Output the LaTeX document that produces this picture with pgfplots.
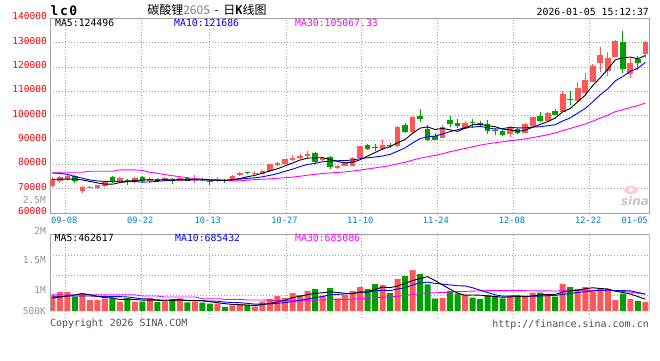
\documentclass[border=0pt]{standalone}
\usepackage{pgfplots}
\pgfplotsset{compat=1.18}
\usepackage{pgfplotstable}
\usepackage{fontspec}
\setmainfont{DejaVu Sans}
\newfontfamily\mono{DejaVu Sans Mono}
\newfontfamily\cjk{Noto Sans CJK SC}
\definecolor{cUp}{RGB}{255,88,88}
\definecolor{cDn}{RGB}{0,160,0}
\definecolor{cMag}{RGB}{255,0,255}
\definecolor{cBlu}{RGB}{0,0,255}
\definecolor{cDate}{RGB}{0,128,200}
\definecolor{cFrame}{RGB}{160,160,160}
\definecolor{cGrid}{RGB}{165,165,165}
\definecolor{cLbl}{RGB}{150,150,150}
\definecolor{cFoot}{RGB}{80,80,80}

\pgfplotstableread{
i o h l c
0 71130 74650 70700 73940
1 73240 75350 72530 74650
2 73660 76050 73240 75350
4 69010 71130 68310 70840
5 70500 71130 70300 70900
6 70140 71700 70000 71550
7 71130 73240 70840 72960
9 73240 74650 72820 74220
11 72820 74650 72530 74360
13 72960 74790 72390 73940
15 73240 74650 72960 74360
17 73240 74650 72960 74360
19 73400 75630 72530 73800
22 73400 74650 72820 73800
24 73100 75490 72960 75210
25 75600 77000 75300 76400
27 76200 77300 75700 76600
28 76200 77600 76000 77400
29 77100 80200 77000 80100
30 79900 81000 79500 80500
31 80000 82300 79900 82200
32 81700 84000 81400 82600
33 82700 84300 82400 83500
34 83400 85500 82800 84100
36 81600 83100 81100 82600
38 78600 79800 78300 79500
39 79500 81000 79200 80800
40 79500 83200 79300 82800
41 82800 87600 82600 87470
44 86130 90130 86100 88130
46 87470 95700 87300 95460
48 93200 100100 93000 99460
52 91000 96030 90730 95480
55 94670 97790 94390 96840
61 92350 95750 91400 95480
63 93030 97110 92760 96430
64 95750 99560 95480 99420
66 97790 101460 97650 101190
68 101460 110300 101460 109070
70 105950 113960 105540 111380
71 109340 117500 109070 114780
72 113960 121170 113690 120490
73 121850 128370 118180 124970
74 118580 126330 116410 123880
75 124290 131090 124020 130820
77 117090 123610 115460 121850
79 125380 130820 123610 130410
}\upC

\pgfplotstableread{
i o h l c
3 75350 75770 72530 73240
8 74650 75350 72530 72960
10 73660 73940 71550 72820
12 74790 75210 72820 73240
14 74080 74360 72680 72960
16 73940 74220 72110 72960
18 74500 74790 72960 73240
20 74100 74360 72960 73800
21 73100 73940 71550 72680
23 73520 73940 72530 72960
26 76900 77000 76100 76250
35 84600 84900 80700 81000
37 82900 83500 77900 78900
42 87870 88200 85800 86530
43 87100 88400 85500 86700
45 88100 88800 86800 87700
47 96100 97000 92800 93200
49 99860 102700 97500 98800
50 94400 96200 89700 90130
51 91870 93070 89870 90130
53 98200 99830 95480 96430
54 96840 98740 95070 95750
56 97400 98740 95070 97000
57 97110 97790 95750 96300
58 96700 98060 92350 93710
59 94000 95070 91950 93600
60 93710 93990 91680 91950
62 94670 95070 92350 93030
65 99830 101600 97520 97790
67 101870 102820 100240 100510
69 106900 110300 104590 106500
76 130410 134760 117500 119130
78 123200 124560 118860 121580
}\dnC

\pgfplotstableread{
i m5 m10 m30
0 73900 76400 76760
1 73900 76300 76760
2 74000 75900 76760
3 73900 75000 76760
4 73604 74300 76760
5 72996 73600 77180
6 72376 73200 77180
7 71898 73000 77180
8 71842 72900 77180
9 72518 73061 77740
10 72902 72949 77740
11 73464 72920 77740
12 73520 72709 77500
13 73716 72779 76760
14 73464 72991 76340
15 73772 73337 75800
16 73492 73478 75350
17 73716 73618 74930
18 73576 73646 74500
19 73744 73604 74200
20 73632 73702 73900
21 73576 73534 73800
22 73464 73590 73500
23 73408 73492 73300
24 73690 73717 73200
25 74210 73921 73250
26 74924 74250 73500
27 75484 74474 73750
28 76372 74890 73900
29 77350 75520 74062
30 78170 76190 74280
31 79360 77142 74532
32 80560 78022 74774
33 81780 79076 75116
34 82580 79965 75558
35 82680 80425 75894
36 82760 81060 76263
37 82020 81290 76461
38 81220 81500 76679
39 80560 81570 76898
40 80920 81800 77231
41 81894 82327 77668
42 83420 82720 78111
43 84860 83040 78536
44 86326 83443 79042
45 87306 84113 79486
46 88904 85399 80236
47 90238 86829 80864
48 92790 88825 81738
49 94924 90625 82572
50 95410 91358 83116
51 94344 91624 83698
52 94800 92519 84420
53 94194 93492 85203
54 93584 94254 85887
55 94926 95168 86569
56 96300 95322 87260
57 96464 95632 87917
58 95920 95057 88461
59 95490 94537 88911
60 94512 94719 89292
61 94208 95254 89735
62 93554 95009 90083
63 94098 95009 90514
64 95262 95376 91024
65 96430 95471 91584
66 97572 95890 92204
67 99068 96311 92924
68 101596 97847 93910
69 103012 99137 94766
70 105730 101080 95719
71 108448 103010 96629
72 112444 105756 97761
73 115624 108610 99037
74 119100 111056 100229
75 122988 114359 101666
76 123858 116153 102455
77 124130 118287 103410
78 123452 119538 104147
79 124758 121929 105201
}\maP

\pgfplotstableread{
i v
0 660000
1 760000
2 760000
4 712000
5 440000
6 440000
7 500000
9 380000
11 380000
13 512000
15 380000
17 508000
19 388000
22 292000
24 228000
25 272000
27 172000
28 372000
29 472000
30 592000
31 528000
32 720000
33 640000
34 792000
36 612000
38 508000
39 632000
40 800000
41 960000
44 1040000
46 1280000
48 1640000
52 520000
55 640000
61 600000
63 600000
64 732000
66 680000
68 1080000
70 880000
71 960000
72 772000
73 920000
74 880000
75 440000
77 480000
79 360000
}\vUp

\pgfplotstableread{
i v
3 580000
8 528000
10 520000
12 380000
14 360000
16 480000
18 348000
20 332000
21 292000
23 168000
26 240000
35 872000
37 920000
42 880000
43 1080000
45 720000
47 1400000
49 1480000
50 1068000
51 492000
53 800000
54 708000
56 532000
57 480000
58 640000
59 600000
60 508000
62 572000
65 732000
67 572000
69 960000
76 692000
78 400000
}\vDn

\pgfplotstableread{
i v5 v10 v30
0 520000 560000 652000
1 560000 580000 652000
2 600000 600000 652000
3 640000 600000 652000
4 694400 600000 652000
5 650400 600000 652000
6 586400 592000 652000
7 534400 584000 652000
8 524000 580000 652000
9 457600 576000 652000
10 473600 562000 652000
11 461600 524000 652000
12 437600 486000 600000
13 434400 479200 600000
14 430400 444000 600000
15 402400 438000 560000
16 422400 442000 560000
17 448000 442800 560000
18 415200 424800 560000
19 420800 425600 560000
20 411200 406800 492000
21 373600 398000 492000
22 330400 389200 492000
23 294400 354800 468000
24 262400 341600 468000
25 250400 330800 468000
26 240000 306800 440000
27 216000 273200 440000
28 256800 275600 440000
29 305600 284000 428400
30 369600 310000 426400
31 427200 333600 418400
32 536800 376400 417200
33 590400 423600 419200
34 654400 480000 422000
35 710400 540000 436400
36 727200 577200 442000
37 767200 652000 456000
38 740800 665600 455200
39 708800 681600 463600
40 694400 702400 473200
41 764000 745600 492400
42 756000 761600 509200
43 870400 805600 528000
44 952000 830400 550800
45 936000 815200 562000
46 1000000 882000 588800
47 1104000 930000 618400
48 1216000 1043200 661600
49 1304000 1128000 698000
50 1373600 1154800 722400
51 1216000 1108000 729200
52 1040000 1072000 736800
53 872000 1044000 757600
54 717600 1010800 773600
55 632000 1002800 786000
56 640000 928000 795600
57 632000 836000 806000
58 600000 736000 814800
59 578400 648000 819200
60 552000 592000 816400
61 565600 602800 818800
62 584000 608000 814000
63 576000 588000 812400
64 602400 590400 810400
65 647200 599600 806000
66 663200 614400 808000
67 663200 623600 796400
68 759200 667600 815600
69 804800 703600 826400
70 834400 740800 829200
71 890400 776800 829200
72 930400 796800 825600
73 898400 828800 820400
74 882400 843600 814800
75 794400 814400 805600
76 740800 815600 786000
77 682400 806400 755200
78 578400 738400 714000
79 474400 678400 676800
}\maV

\tikzset{candlegrid/.style={draw=cGrid, line width=0.9pt, dash pattern=on 1pt off 2pt}}
\pgfplotsset{candle/.style={only marks, mark=*, mark size=0pt, mark options={draw=none, fill=none}, forget plot}}

\begin{document}
\begin{tikzpicture}
\fill[white] (0pt,0pt) rectangle (660pt,360pt);

% ---------- price panel ----------
\begin{axis}[
  at={(50pt,147pt)}, anchor=south west, scale only axis,
  width=599.5pt, height=194.5pt,
  xmin=-0.306, xmax=79.56, ymin=60000, ymax=140000,
  axis line style={draw=cFrame, line width=1pt},
  xtick={1.785,11.91,20.92,31.14,41.22,51.30,61.43,71.6},
  xticklabels={09-08,09-22,10-13,10-27,11-10,11-24,12-08,12-22},
  xticklabel style={font=\mono\fontsize{8.7}{9}\selectfont, text=cDate, anchor=north, inner sep=0pt, yshift=-4pt, xshift=-1.5pt},
  ytick={60000,70000,80000,90000,100000,110000,120000,130000,140000},
  yticklabels={60000,70000,80000,90000,100000,110000,120000,130000,140000},
  yticklabel style={font=\mono\fontsize{9.5}{10}\selectfont, text=red, anchor=east, inner sep=0pt, xshift=-3pt, yshift=2pt},
  major tick length=0pt,
  xmajorgrids, ymajorgrids,
  grid style={candlegrid},
  scaled y ticks=false, scaled x ticks=false,
]
% wicks
\addplot[candle, error bars/.cd, y dir=plus, y explicit, error mark=none,
  error bar style={draw=cUp, line width=1pt}]
  table[x=i, y=l, y error plus expr=\thisrow{h}-\thisrow{l}] {\upC};
\addplot[candle, error bars/.cd, y dir=plus, y explicit, error mark=none,
  error bar style={draw=cDn, line width=1pt}]
  table[x=i, y=l, y error plus expr=\thisrow{h}-\thisrow{l}] {\dnC};
% bodies
\addplot[candle, error bars/.cd, y dir=plus, y explicit, error mark=none,
  error bar style={draw=cUp, line width=5.6pt}]
  table[x=i, y=o, y error plus expr=\thisrow{c}-\thisrow{o}] {\upC};
\addplot[candle, error bars/.cd, y dir=plus, y explicit, error mark=none,
  error bar style={draw=cDn, line width=5.6pt}]
  table[x=i, y=c, y error plus expr=\thisrow{o}-\thisrow{c}] {\dnC};
% moving averages
\addplot[cMag, line width=0.9pt, mark=none] table[x=i, y=m30] {\maP};
\addplot[cBlu, line width=0.9pt, mark=none] table[x=i, y=m10] {\maP};
\addplot[black, line width=0.9pt, mark=none] table[x=i, y=m5] {\maP};
\end{axis}

% ---------- volume panel ----------
\begin{axis}[
  at={(50pt,49pt)}, anchor=south west, scale only axis,
  width=599.5pt, height=76.5pt,
  xmin=-0.306, xmax=79.56, ymin=0, ymax=3060000,
  axis line style={draw=none},
  xtick={1.785,11.91,20.92,31.14,41.22,51.30,61.43,71.6},
  xticklabels={},
  ytick={620000,1420000,2220000},
  yticklabels={},
  major tick length=0pt,
  xmajorgrids, ymajorgrids,
  grid style={candlegrid},
  scaled y ticks=false, scaled x ticks=false,
]
\addplot[ybar, bar width=6pt, bar shift=0pt, fill=cUp, draw=none] table[x=i, y=v] {\vUp};
\addplot[ybar, bar width=6pt, bar shift=0pt, fill=cDn, draw=none] table[x=i, y=v] {\vDn};
\addplot[cMag, line width=0.9pt, mark=none] table[x=i, y=v30] {\maV};
\addplot[cBlu, line width=0.9pt, mark=none] table[x=i, y=v10] {\maV};
\addplot[black, line width=0.9pt, mark=none] table[x=i, y=v5] {\maV};
\draw[cFrame, line width=1pt] (rel axis cs:0,0) -- (rel axis cs:0,1) -- (rel axis cs:1,1) -- (rel axis cs:1,0);
\end{axis}

% grid extensions below volume panel
\foreach \gx in {65.7,141.7,209.3,286,361.7,437.3,513.3,589.7}
  \draw[candlegrid] (\gx pt,49pt) -- (\gx pt,40pt);

% ---------- texts ----------
\node[anchor=west, inner sep=0pt] at (50.5pt,349.5pt) {\mono\bfseries\fontsize{13}{13}\selectfont l\hspace{1.5pt}c\hspace{1.5pt}0};
\node[inner sep=0pt] at (207pt,350pt) {\cjk\fontsize{12}{12}\selectfont 碳酸锂\textcolor{gray}{2605} \,-\, 日{\mono\bfseries K}线图};
\node[anchor=east, inner sep=0pt] at (649pt,347.7pt) {\mono\fontsize{9.8}{10}\selectfont 2026-01-05 15:12:37};

\node[anchor=west, inner sep=0pt] at (55pt,336.7pt) {\mono\fontsize{9.8}{10}\selectfont MA5:124496};
\node[anchor=west, inner sep=0pt, text=cBlu] at (174pt,336.7pt) {\mono\fontsize{9.8}{10}\selectfont MA10:121686};
\node[anchor=west, inner sep=0pt, text=cMag] at (295pt,336.7pt) {\mono\fontsize{9.8}{10}\selectfont MA30:105067.33};

\node[anchor=west, inner sep=0pt] at (54.5pt,122pt) {\mono\fontsize{9.8}{10}\selectfont MA5:462617};
\node[anchor=west, inner sep=0pt, text=cBlu] at (175pt,122pt) {\mono\fontsize{9.8}{10}\selectfont MA10:685432};
\node[anchor=west, inner sep=0pt, text=cMag] at (295pt,122pt) {\mono\fontsize{9.8}{10}\selectfont MA30:685086};

\node[anchor=center, inner sep=0pt, text=cDate] at (634.7pt,139.5pt) {\mono\fontsize{8.7}{9}\selectfont 01-05};

\node[anchor=east, inner sep=0pt, text=cLbl] at (46pt,159.5pt) {\mono\fontsize{9.5}{10}\selectfont 2.5M};
\node[anchor=east, inner sep=0pt, text=cLbl] at (46pt,129pt) {\mono\fontsize{9.5}{10}\selectfont 2M};
\node[anchor=east, inner sep=0pt, text=cLbl] at (46pt,100pt) {\mono\fontsize{9.5}{10}\selectfont 1.5M};
\node[anchor=east, inner sep=0pt, text=cLbl] at (46pt,69.5pt) {\mono\fontsize{9.5}{10}\selectfont 1M};
\node[anchor=east, inner sep=0pt, text=cLbl] at (46pt,49pt) {\mono\fontsize{9.5}{10}\selectfont 500K};

\node[anchor=west, inner sep=0pt, text=cFoot] at (50pt,36pt) {\mono\fontsize{9.9}{10}\selectfont Copyright 2026 SINA.COM};
\node[anchor=east, inner sep=0pt, text=cFoot] at (649pt,35.5pt) {\mono\fontsize{10}{10}\selectfont http://finance.sina.com.cn};

\fill[red!20] (631pt,170pt) ellipse (7pt and 4pt);
\fill[white] (631pt,170pt) circle (2pt);
\node[inner sep=0pt, text=gray!45] at (635pt,159pt) {\fontsize{12}{12}\selectfont\bfseries\itshape sina};

\pgfresetboundingbox
\useasboundingbox (0pt,0pt) rectangle (660pt,360pt);
\end{tikzpicture}
\end{document}
